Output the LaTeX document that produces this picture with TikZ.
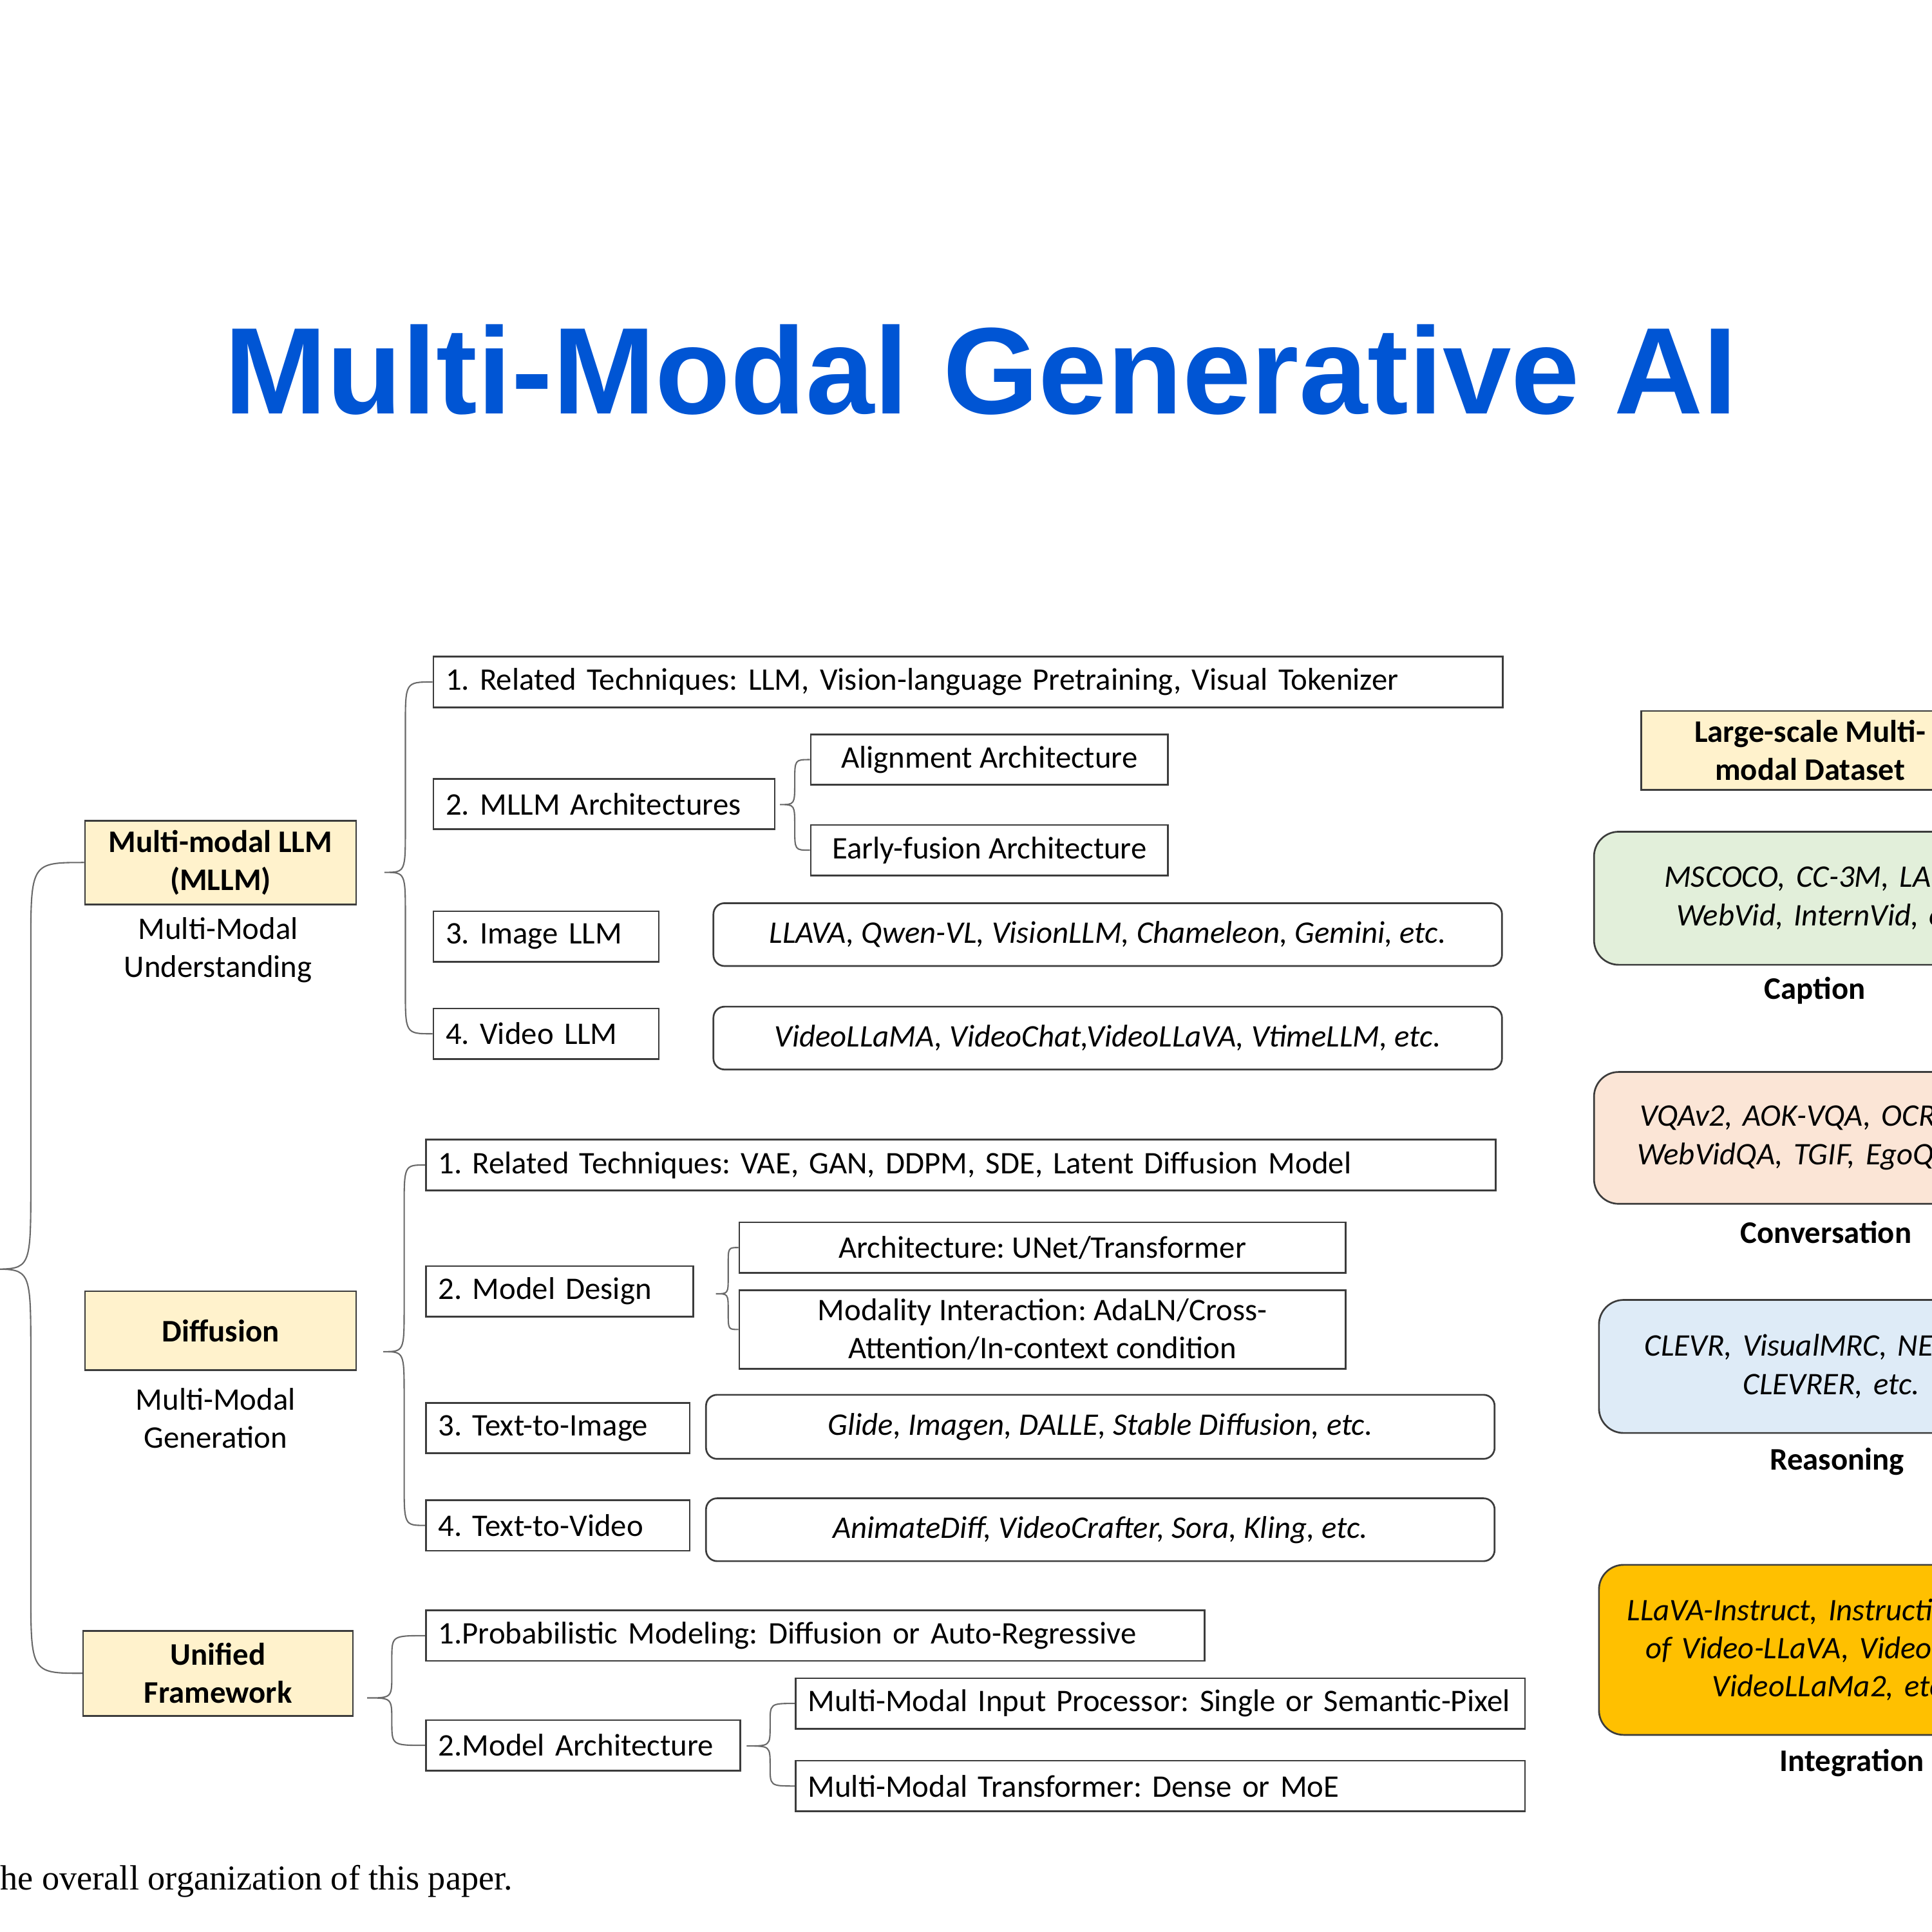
\documentclass[tikz,border=0pt]{standalone}
\usepackage{fontspec}
\setmainfont{Carlito}
\newfontfamily\titlefont{Liberation Sans}
\newfontfamily\paperfont{Liberation Serif}
\usetikzlibrary{calc}
\frenchspacing

\definecolor{titleblue}{RGB}{0,85,212}
\definecolor{catfill}{RGB}{255,242,204}
\definecolor{capfill}{RGB}{226,239,218}
\definecolor{convfill}{RGB}{251,229,214}
\definecolor{reasfill}{RGB}{222,235,247}
\definecolor{integfill}{RGB}{255,192,0}
\definecolor{boxline}{RGB}{60,60,60}
\definecolor{braceline}{RGB}{105,105,105}

\newcommand{\fs}{\fontsize{25.5}{31}\selectfont}
% curly brace: top end, tip, bottom end, depth, bend
\newcommand{\curly}[5]{%
  \draw[brace] (#1) .. controls ($(#1 -| #2)+(#4,0)$) .. ($(#1 -| #2)+(#4,#5)$)
    -- ($(#2)+(#4,-#5)$) .. controls ($(#2)+(#4,0)$) .. (#2)
    .. controls ($(#2)+(#4,0)$) .. ($(#2)+(#4,#5)$)
    -- ($(#3 -| #2)+(#4,-#5)$) .. controls ($(#3 -| #2)+(#4,0)$) .. (#3);}

\tikzset{
  cat/.style={draw=boxline, line width=1.4pt, fill=catfill, minimum width=220pt,
    align=center, font=\fs\bfseries},
  note/.style={align=center, font=\fs},
  item/.style={draw=boxline, line width=1.4pt, anchor=west, align=left,
    inner xsep=10pt, minimum height=41pt, text width=#1, font=\fs},
  sub/.style={draw=boxline, line width=1.4pt, align=center, minimum width=#1,
    minimum height=41pt, font=\fs},
  example/.style={draw=boxline, line width=1.4pt, rounded corners=9pt,
    minimum width=640pt, minimum height=51pt, font=\fs\itshape},
  dataset/.style={draw=boxline, line width=1.4pt, rounded corners=20pt, anchor=west,
    align=left, text width=340pt, font=\fs\itshape},
  tag/.style={font=\fs\bfseries},
  brace/.style={draw=braceline, line width=1.1pt},
}

\begin{document}
\begin{tikzpicture}[x=1pt,y=-1pt]
  \path[fill=white, use as bounding box] (0,0) rectangle (1568,1568);

  \node[text=titleblue, font=\titlefont\bfseries\fontsize{100}{100}\selectfont] (title)
    at (796,300) {Multi-Modal Generative AI};

  % left column
  \node[cat, minimum height=68pt] (mllm) at (179,700) {Multi-modal LLM\\(MLLM)};
  \node[note] (mllmnote) at (177,771) {Multi-Modal\\Understanding};
  \node[cat, minimum height=64pt] (diff) at (179,1080) {Diffusion};
  \node[note] (diffnote) at (175,1151) {Multi-Modal\\Generation};
  \node[cat, minimum width=219pt, minimum height=69pt] (unif) at (177,1358) {Unified\\Framework};

  % multi-modal llm
  \node[item=848pt] (m1) at (351,553.5) {1. Related Techniques: LLM, Vision-language Pretraining, Visual Tokenizer};
  \node[item=257pt] (m2) at (351,652.5) {2. MLLM Architectures};
  \node[sub=290pt] (m2a) at (803,616.5) {Alignment Architecture};
  \node[sub=290pt] (m2b) at (803,690) {Early-fusion Architecture};
  \node[item=163pt] (m3) at (351,760) {3. Image LLM};
  \node[example] (m3e) at (899,758.5) {LLAVA, Qwen-VL, VisionLLM, Chameleon, Gemini, etc.};
  \node[item=163pt] (m4) at (351,839) {4. Video LLM};
  \node[example] (m4e) at (899,842.5) {VideoLLaMA, VideoChat,VideoLLaVA, VtimeLLM, etc.};

  % diffusion
  \node[item=848pt] (d1) at (345,945.5) {1. Related Techniques: VAE, GAN, DDPM, SDE, Latent Diffusion Model};
  \node[item=197pt] (d2) at (345,1048) {2. Model Design};
  \node[sub=492pt] (d2a) at (846,1012.5) {Architecture: UNet/Transformer};
  \node[sub=492pt, minimum height=64pt] (d2b) at (846,1079) {Modality Interaction: AdaLN/Cross-\\Attention/In-context condition};
  \node[item=194pt] (d3) at (345,1159) {3. Text-to-Image};
  \node[example, minimum height=52pt] (d3e) at (893,1158) {Glide, Imagen, DALLE, Stable Diffusion, etc.};
  \node[item=194pt] (d4) at (345,1238) {4. Text-to-Video};
  \node[example] (d4e) at (893,1241.5) {AnimateDiff, VideoCrafter, Sora, Kling, etc.};

  % unified framework
  \node[item=612pt] (u1) at (345,1327.5) {1.Probabilistic Modeling: Diffusion or Auto-Regressive};
  \node[item=235pt] (u2) at (345,1416.5) {2.Model Architecture};
  \node[item=572pt] (u2a) at (645,1382.5) {\mbox{Multi-Modal Input Processor: Single or Semantic-Pixel}};
  \node[item=572pt] (u2b) at (645,1449.5) {Multi-Modal Transformer: Dense or MoE};

  % datasets
  \node[cat, minimum width=274pt, minimum height=64pt] (data) at (1469,609) {Large-scale Multi-\\modal Dataset};
  \node[dataset, fill=capfill, minimum height=108pt, inner xsep=57pt] (cap) at (1293,729)
    {MSCOCO, CC-3M, LAI\\\hspace*{10pt}WebVid, InternVid, e};
  \node[tag] (captag) at (1473,804) {Caption};
  \node[dataset, fill=convfill, minimum height=107pt, inner xsep=35pt] (conv) at (1293,923.5)
    {\hspace*{2pt}VQAv2, AOK-VQA, OCR\\WebVidQA, TGIF, EgoQA};
  \node[tag] (convtag) at (1482,1000) {Conversation};
  \node[dataset, fill=reasfill, minimum height=108pt, inner xsep=37pt] (reas) at (1297,1109)
    {CLEVR, VisualMRC, NEX\\\hspace*{80pt}CLEVRER, etc.};
  \node[tag] (reastag) at (1491,1186) {Reasoning};
  \node[dataset, fill=integfill, minimum height=138pt, inner xsep=23pt] (integ) at (1297,1339)
    {LLaVA-Instruct, Instructi\\\hspace*{15pt}of Video-LLaVA, Video-\\\hspace*{69pt}VideoLLaMa2, etc};
  \node[tag] (integtag) at (1503,1431) {Integration};

  \node[anchor=west, inner sep=0pt, font=\paperfont\fontsize{28.4}{31}\selectfont] (paper)
    at (0,1527) {he overall organization of this paper.};

  % braces
  \coordinate (rtip) at (-6,1030);
  \coordinate (mtip) at (312,708);
  \coordinate (m2tip) at (633,653);
  \coordinate (dtip) at (311,1097);
  \coordinate (d2tip) at (581,1050);
  \coordinate (utip) at (298,1378);
  \coordinate (u2tip) at (606,1417);
  \curly{mllm.west}{rtip}{unif.west}{31}{70}
  \curly{m1.west}{mtip}{m4.west}{17}{36}
  \curly{m2a.west}{m2tip}{m2b.west}{12}{18}
  \curly{d1.west}{dtip}{d4.west}{17}{36}
  \curly{d2a.west}{d2tip}{d2b.west}{10}{14}
  \curly{u1.west}{utip}{u2.west}{20}{19}
  \curly{u2a.west}{u2tip}{u2b.west}{19}{16}
\end{tikzpicture}
\end{document}
